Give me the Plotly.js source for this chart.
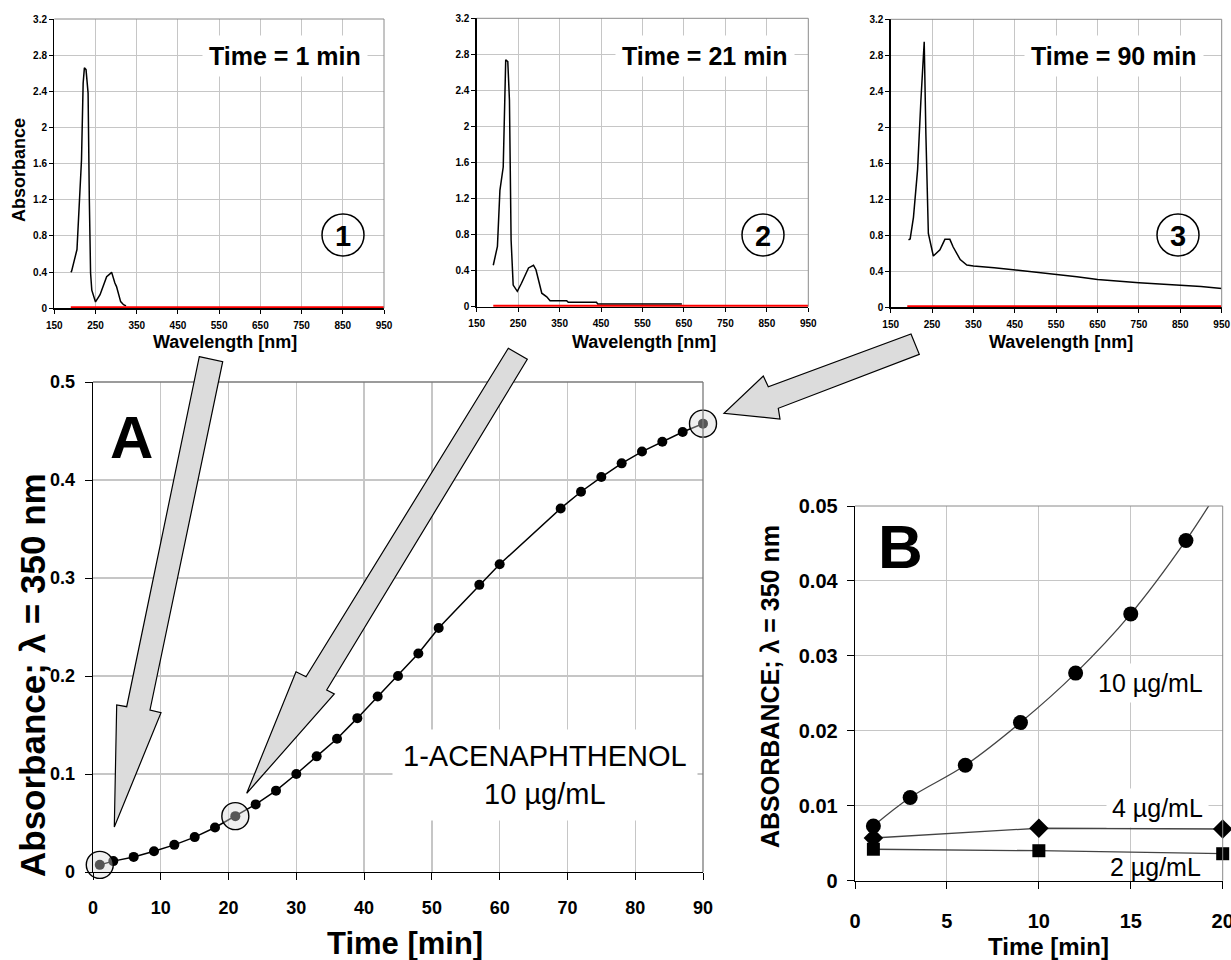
<!DOCTYPE html>
<html><head><meta charset="utf-8">
<script src="https://cdn.plot.ly/plotly-3.0.1.min.js"></script>
<style>body{margin:0;background:#fff}#chart{width:1231px;height:960px}</style>
</head><body><div id="chart"></div>
<script>
// ---- Spectra (top panels) ----
const wavelength1 = [190, 192, 205, 212, 216, 220, 223, 227, 232, 235, 238, 241, 250, 261, 277, 285, 289, 297, 301, 311, 318, 324];
const absorb1     = [0.40, 0.41, 0.65, 1.20, 1.64, 2.49, 2.66, 2.64, 2.38, 1.20, 0.39, 0.20, 0.07, 0.15, 0.35, 0.38, 0.40, 0.28, 0.24, 0.074, 0.04, 0.026];
const wavelength2 = [190, 200, 206, 214, 220, 225, 229, 233, 238, 248, 258, 275, 287, 293, 300, 307, 319, 327, 367, 371, 439, 442, 645];
const absorb2     = [0.46, 0.67, 1.29, 1.55, 2.74, 2.72, 2.29, 0.74, 0.24, 0.17, 0.26, 0.43, 0.46, 0.41, 0.28, 0.15, 0.11, 0.067, 0.067, 0.048, 0.048, 0.03, 0.03];
const wavelength3 = [193, 197, 205, 215, 223, 231, 235, 241, 253, 269, 281, 293, 301, 318, 334, 350, 400, 450, 500, 550, 600, 650, 700, 750, 800, 850, 900, 950];
const absorb3     = [0.75, 0.76, 1.00, 1.53, 2.30, 2.95, 1.93, 0.82, 0.57, 0.64, 0.755, 0.755, 0.67, 0.53, 0.47, 0.46, 0.44, 0.415, 0.395, 0.37, 0.34, 0.31, 0.29, 0.274, 0.26, 0.248, 0.23, 0.21];
const blankWavelength = [190, 950];
const blankAbsorb     = [0.005, 0.005];
const spectrumTimes = ['Time = 1 min', 'Time = 21 min', 'Time = 90 min'];
const spectrumNumbers = ['1', '2', '3'];
const wlTicks  = [150, 250, 350, 450, 550, 650, 750, 850, 950];
const absTicks = [0, 0.4, 0.8, 1.2, 1.6, 2, 2.4, 2.8, 3.2];

// ---- Panel A ----
const timeA = [1, 3, 6, 9, 12, 15, 18, 21, 24, 27, 30, 33, 36, 39, 42, 45, 48, 51, 57, 60, 69, 72, 75, 78, 81, 84, 87, 90];
const absA  = [0.0073, 0.0111, 0.0154, 0.0211, 0.0277, 0.0356, 0.0454, 0.057, 0.069, 0.083, 0.100, 0.118, 0.136, 0.157, 0.179, 0.200, 0.223, 0.249, 0.293, 0.314, 0.371, 0.388, 0.403, 0.417, 0.429, 0.439, 0.449, 0.4575];
const timeMarked = [1, 21, 90];
const absMarked  = [0.0073, 0.057, 0.4575];
const timeTicksA = [0, 10, 20, 30, 40, 50, 60, 70, 80, 90];
const absTicksA  = [0, 0.1, 0.2, 0.3, 0.4, 0.5];

// ---- Panel B ----
const timeB10 = [1, 3, 6, 9, 12, 15, 18];
const absB10  = [0.0073, 0.0111, 0.0154, 0.0211, 0.0277, 0.0356, 0.0454];
const trendB10Time = [1, 3, 6, 9, 12, 15, 18, 20];
const trendB10Abs  = [0.0073, 0.0111, 0.0154, 0.0211, 0.0277, 0.0356, 0.0454, 0.053];
const timeB4 = [1, 10, 20];
const absB4  = [0.0057, 0.0070, 0.0069];
const timeB2 = [1, 10, 20];
const absB2  = [0.0042, 0.0040, 0.0036];
const timeTicksB = [0, 5, 10, 15, 20];
const absTicksB  = [0, 0.01, 0.02, 0.03, 0.04, 0.05];

const W = 1231, H = 960;
const px = v => v / W, py = v => 1 - v / H;
const FONT = 'Liberation Sans, Arial, Helvetica, sans-serif';

function ax(extra) {
  return Object.assign({
    showgrid: true, gridcolor: '#c6c6c6', gridwidth: 1, zeroline: false,
    showline: true, linecolor: '#000', linewidth: 1.3, ticks: 'outside',
    tickcolor: '#000', fixedrange: true, automargin: false
  }, extra);
}

const smallDomains = [[54.3, 384, 19, 308.3], [476.7, 808.3, 18.3, 306.7], [890.7, 1221.7, 19.3, 307.3]];
const layout = {
  width: W, height: H, margin: {l: 0, r: 0, t: 0, b: 0},
  paper_bgcolor: '#fff', plot_bgcolor: '#fff', showlegend: false, hovermode: false,
  font: {family: FONT, color: '#000'},
  annotations: [], shapes: []
};
const spectra = [[wavelength1, absorb1], [wavelength2, absorb2], [wavelength3, absorb3]];
const data = [];
smallDomains.forEach((d, i) => {
  const n = i + 1;
  layout['xaxis' + n] = ax({domain: [px(d[0]), px(d[1])], range: [150, 950], tickvals: wlTicks, ticklen: 4,
    tickfont: {size: 10, weight: 700}, anchor: 'y' + n, ticklabelstandoff: 3, ticklabeloverflow: 'allow'});
  layout['yaxis' + n] = ax({domain: [py(d[3]), py(d[2])], range: [0, 3.2], tickvals: absTicks, ticklen: 4,
    tickfont: {size: 10, weight: 700}, anchor: 'x' + n, ticklabelstandoff: 0});
  data.push({x: spectra[i][0], y: spectra[i][1], xaxis: 'x' + n, yaxis: 'y' + n, mode: 'lines',
    line: {color: '#000', width: 1.5}});
  data.push({x: blankWavelength, y: blankAbsorb, xaxis: 'x' + n, yaxis: 'y' + n, mode: 'lines',
    line: {color: '#ff0000', width: 3}});
  layout.shapes.push({type: 'line', xref: 'x' + n + ' domain', yref: 'y' + n + ' domain', x0: 0, x1: 1, y0: 1, y1: 1, line: {color: '#8a8a8a', width: 1}});
  layout.shapes.push({type: 'line', xref: 'x' + n + ' domain', yref: 'y' + n + ' domain', x0: 1, x1: 1, y0: 0, y1: 1, line: {color: '#8a8a8a', width: 1}});
});
const timeLabelX = [285, 705, 1114];
const numberX = [343, 763, 1178];
for (let i = 0; i < 3; i++) {
  layout.annotations.push({xref: 'paper', yref: 'paper', x: px(timeLabelX[i]), y: py(56), text: spectrumTimes[i],
    showarrow: false, font: {size: 25, weight: 700}, bgcolor: '#fff', borderpad: 6, xanchor: 'center', yanchor: 'middle'});
  layout.annotations.push({xref: 'paper', yref: 'paper', x: px(numberX[i]), y: py(236), text: spectrumNumbers[i],
    showarrow: false, font: {size: 29, weight: 700}, xanchor: 'center', yanchor: 'middle'});
  layout.shapes.push({type: 'circle', xref: 'paper', yref: 'paper', x0: px(numberX[i] - 21), x1: px(numberX[i] + 21),
    y0: py(235 + 21), y1: py(235 - 21), line: {color: '#000', width: 1.5}, fillcolor: 'rgba(0,0,0,0)'});
}
const wlTitleX = [225, 644, 1061];
wlTitleX.forEach(x => layout.annotations.push({xref: 'paper', yref: 'paper', x: px(x), y: py(342), text: 'Wavelength [nm]',
  showarrow: false, font: {size: 18, weight: 700}, xanchor: 'center', yanchor: 'middle'}));
layout.annotations.push({xref: 'paper', yref: 'paper', x: px(19), y: py(170), text: 'Absorbance', textangle: -90,
  showarrow: false, font: {size: 18, weight: 700}, xanchor: 'center', yanchor: 'middle'});

// ---- Panel A axes ----
layout.xaxis4 = ax({domain: [px(93), px(703)], range: [0, 90], tickvals: timeTicksA, ticklen: 7,
  tickfont: {size: 18, weight: 700}, anchor: 'y4', ticklabelstandoff: 12, gridwidth: 1.3});
layout.yaxis4 = ax({domain: [py(872), py(382)], range: [0, 0.5], tickvals: absTicksA, ticklen: 7,
  tickfont: {size: 18, weight: 700}, anchor: 'x4', ticklabelstandoff: 6, gridwidth: 1.3});
layout.shapes.push({type: 'line', xref: 'x4 domain', yref: 'y4 domain', x0: 0, x1: 1, y0: 1, y1: 1, line: {color: '#7a7a7a', width: 1.3}});
layout.shapes.push({type: 'line', xref: 'x4 domain', yref: 'y4 domain', x0: 1, x1: 1, y0: 0, y1: 1, line: {color: '#7a7a7a', width: 1.3}});
data.push({x: timeA, y: absA, xaxis: 'x4', yaxis: 'y4', mode: 'lines+markers', cliponaxis: false,
  line: {color: '#000', width: 1.5}, marker: {color: '#000', size: 10}});
data.push({x: timeMarked, y: absMarked, xaxis: 'x4', yaxis: 'y4', mode: 'markers', cliponaxis: false,
  marker: {color: 'rgba(215,215,215,0.4)', size: 27, line: {color: '#000', width: 1.4}}});
layout.annotations.push({xref: 'paper', yref: 'paper', x: px(131), y: py(437), text: 'A', showarrow: false,
  font: {size: 60, weight: 700}, xanchor: 'center', yanchor: 'middle'});
layout.annotations.push({xref: 'paper', yref: 'paper', x: px(545), y: py(775), text: '1-ACENAPHTHENOL<br>10 µg/mL',
  showarrow: false, font: {size: 29}, bgcolor: '#fff', borderpad: 10, xanchor: 'center', yanchor: 'middle'});
layout.annotations.push({xref: 'paper', yref: 'paper', x: px(405), y: py(943), text: 'Time [min]', showarrow: false,
  font: {size: 31, weight: 700}, xanchor: 'center', yanchor: 'middle'});
layout.annotations.push({xref: 'paper', yref: 'paper', x: px(32), y: py(675), text: 'Absorbance; λ = 350 nm', textangle: -90,
  showarrow: false, font: {size: 35, weight: 700}, xanchor: 'center', yanchor: 'middle'});

// ---- Panel B axes ----
layout.xaxis5 = ax({domain: [px(855), px(1222.7)], range: [0, 20], tickvals: timeTicksB, ticklen: 7,
  tickfont: {size: 20, weight: 700}, anchor: 'y5', ticklabelstandoff: 15, ticklabeloverflow: 'allow'});
layout.yaxis5 = ax({domain: [py(880.7), py(506)], range: [0, 0.05], tickvals: absTicksB, ticklen: 7,
  tickfont: {size: 20, weight: 700}, anchor: 'x5', ticklabelstandoff: 5});
layout.shapes.push({type: 'line', xref: 'x5 domain', yref: 'y5 domain', x0: 0, x1: 1, y0: 1, y1: 1, line: {color: '#8a8a8a', width: 1}});
layout.shapes.push({type: 'line', xref: 'x5 domain', yref: 'y5 domain', x0: 1, x1: 1, y0: 0, y1: 1, line: {color: '#8a8a8a', width: 1}});
data.push({x: trendB10Time, y: trendB10Abs, xaxis: 'x5', yaxis: 'y5', mode: 'lines',
  line: {color: '#444', width: 1.3, shape: 'spline'}});
data.push({x: timeB10, y: absB10, xaxis: 'x5', yaxis: 'y5', mode: 'markers', cliponaxis: false,
  marker: {color: '#000', size: 15, symbol: 'circle'}});
data.push({x: timeB4, y: absB4, xaxis: 'x5', yaxis: 'y5', mode: 'lines+markers', cliponaxis: false,
  line: {color: '#444', width: 1.3}, marker: {color: '#000', size: 15, symbol: 'diamond'}});
data.push({x: timeB2, y: absB2, xaxis: 'x5', yaxis: 'y5', mode: 'lines+markers', cliponaxis: false,
  line: {color: '#444', width: 1.3}, marker: {color: '#000', size: 13, symbol: 'square'}});
layout.annotations.push({xref: 'paper', yref: 'paper', x: px(900), y: py(546), text: 'B', showarrow: false,
  font: {size: 62, weight: 700}, xanchor: 'center', yanchor: 'middle'});
layout.annotations.push({xref: 'paper', yref: 'paper', x: px(1150), y: py(683), text: '10 µg/mL', showarrow: false,
  font: {size: 25}, bgcolor: '#fff', borderpad: 5, xanchor: 'center', yanchor: 'middle'});
layout.annotations.push({xref: 'paper', yref: 'paper', x: px(1157), y: py(808), text: '4 µg/mL', showarrow: false,
  font: {size: 25}, bgcolor: '#fff', borderpad: 5, xanchor: 'center', yanchor: 'middle'});
layout.annotations.push({xref: 'paper', yref: 'paper', x: px(1155), y: py(867), text: '2 µg/mL', showarrow: false,
  font: {size: 25}, xanchor: 'center', yanchor: 'middle'});
layout.annotations.push({xref: 'paper', yref: 'paper', x: px(1048), y: py(946), text: 'Time [min]', showarrow: false,
  font: {size: 24, weight: 700}, xanchor: 'center', yanchor: 'middle'});
layout.annotations.push({xref: 'paper', yref: 'paper', x: px(770), y: py(687), text: 'ABSORBANCE; λ = 350 nm', textangle: -90,
  showarrow: false, font: {size: 25, weight: 700}, xanchor: 'center', yanchor: 'middle'});

// ---- Arrows ----
function arrowPath(pts) {
  return 'M ' + pts.map(p => px(p[0]).toFixed(5) + ',' + py(p[1]).toFixed(5)).join(' L ') + ' Z';
}
const arrows = [
  [[199.3, 356.7], [222.7, 361.7], [150, 710], [161, 712.7], [114.3, 827], [116.7, 705], [126.7, 706.7]],
  [[508.3, 348.3], [527.3, 359.3], [326.7, 690], [334.3, 694], [246.7, 793.3], [296, 671.7], [306, 676.7]],
  [[911, 334], [919.3, 354.3], [778.3, 408.3], [780, 419], [724, 413.3], [763.3, 376], [768.3, 386.7]]
];
arrows.forEach(a => layout.shapes.push({type: 'path', xref: 'paper', yref: 'paper', path: arrowPath(a),
  fillcolor: '#dcdcdc', line: {color: '#000', width: 1.2}, layer: 'above'}));

Plotly.newPlot('chart', data, layout, {displayModeBar: false, staticPlot: true});
</script></body></html>
